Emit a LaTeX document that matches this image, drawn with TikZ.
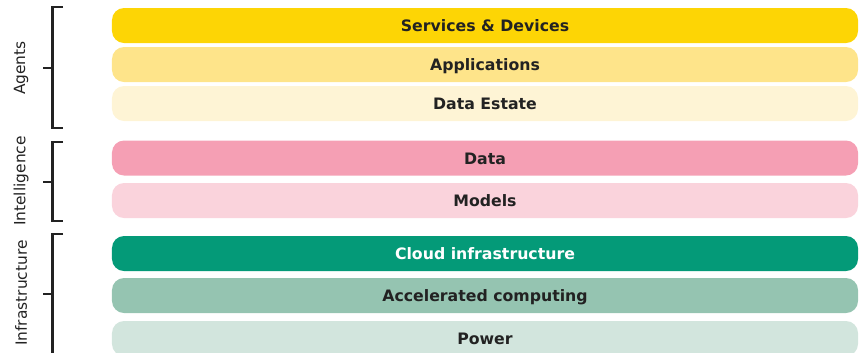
\documentclass[tikz,border=0pt]{standalone}
\usepackage{fontspec}
\setmainfont{DejaVu Sans}
\definecolor{ylA}{HTML}{FDD505}
\definecolor{ylB}{HTML}{FEE48A}
\definecolor{ylC}{HTML}{FEF4D5}
\definecolor{pkA}{HTML}{F59FB4}
\definecolor{pkB}{HTML}{FAD3DC}
\definecolor{gnA}{HTML}{049A78}
\definecolor{gnB}{HTML}{95C4B1}
\definecolor{gnC}{HTML}{D2E5DD}
\definecolor{txt}{HTML}{222222}
\begin{document}
\begin{tikzpicture}[x=1bp,y=-1bp,
  bar/.style={rectangle, rounded corners=12bp, minimum width=746bp, minimum height=35bp, inner sep=0pt, draw=none, text=txt, text height=12bp, text depth=0bp, font=\fontsize{15.8}{18}\selectfont\bfseries},
  brk/.style={draw=txt, line width=2.5bp},
  grp/.style={rotate=90, text=txt, font=\fontsize{15.5}{18}\selectfont}]
\useasboundingbox (0,0) rectangle (862,352);
\node[bar, fill=ylA] (sd) at (485,25.5) {Services \& Devices};
\node[bar, fill=ylB] (ap) at (485,64.5) {Applications};
\node[bar, fill=ylC] (de) at (485,103.5) {Data Estate};
\node[bar, fill=pkA] (da) at (485,158) {Data};
\node[bar, fill=pkB] (mo) at (485,200.5) {Models};
\node[bar, fill=gnA, text=white] (ci) at (485,253.5) {Cloud infrastructure};
\node[bar, fill=gnB] (ac) at (485,295.5) {Accelerated computing};
\node[bar, fill=gnC] (po) at (485,338.5) {Power};
% brackets
\draw[brk] (63,7) -- (52.5,7) -- (52.5,128) -- (63,128);
\draw[brk] (52.5,68) -- (43,68);
\draw[brk] (63,142) -- (52.5,142) -- (52.5,221) -- (63,221);
\draw[brk] (52.5,182) -- (43,182);
\draw[brk] (63,234) -- (52.5,234) -- (52.5,360);
\draw[brk] (52.5,294) -- (43,294);
\node[grp] (ag) at (21,68) {Agents};
\node[grp] (in) at (21,181) {Intelligence};
\node[grp] (if) at (21,293) {Infrastructure};
\end{tikzpicture}
\end{document}
